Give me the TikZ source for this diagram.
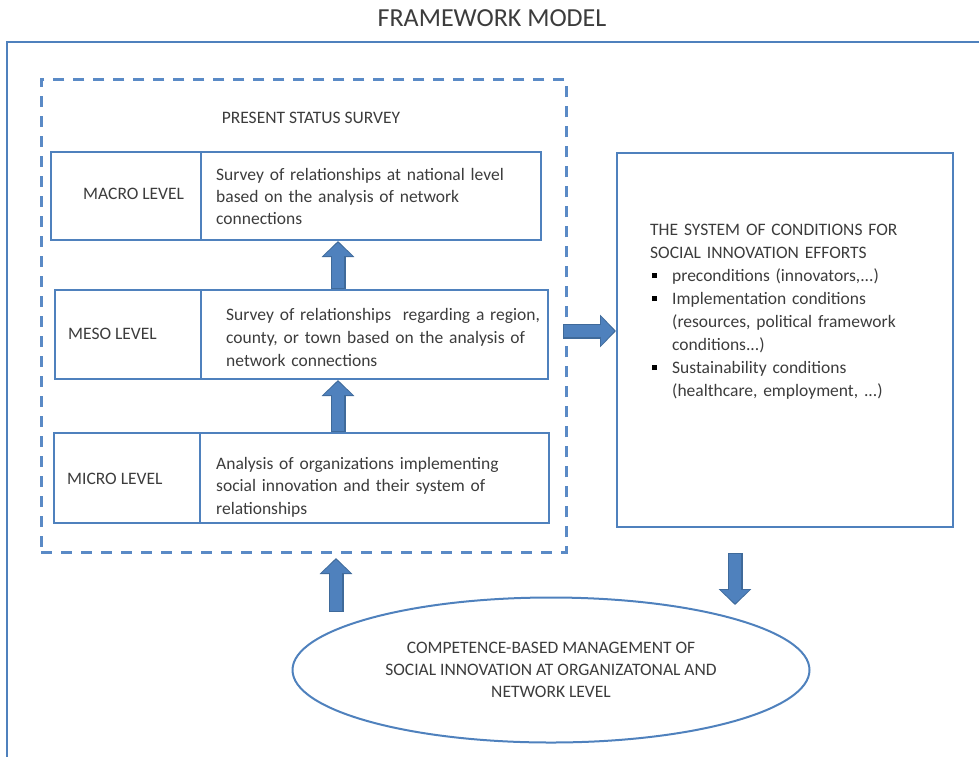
\documentclass[tikz,border=0pt]{standalone}
\usepackage{fontspec}
\setmainfont{Carlito}
\usetikzlibrary{arrows.meta,shapes.geometric,calc}
\definecolor{ln}{HTML}{4F81BD}
\definecolor{dl}{HTML}{5A8AC6}
\definecolor{af}{HTML}{4F81BD}
\definecolor{ad}{HTML}{3F6A9A}
\definecolor{tx}{HTML}{3C3C3C}
\newcommand\sqb{\textcolor{black}{\rule[3pt]{5pt}{5pt}}}
\newcommand\blockarrow[2]{%
  \draw[blkout] (#1) -- (#2);
  \draw[blkin] (#1) -- (#2);}
\begin{document}
\begin{tikzpicture}[x=1pt,y=-1pt,
 box/.style={draw=ln, line width=2pt, anchor=north west, inner sep=0pt},
 divider/.style={draw=ln, line width=1.3pt},
 txt/.style={text=tx, font=\fontsize{17.5}{22}\selectfont, inner sep=0pt, anchor=base west, align=left},
 blkout/.style={draw=ad, line width=15pt, -{Triangle[width=32pt,length=16pt]}},
 blkin/.style={draw=af, line width=12.5pt, -{Triangle[width=28pt,length=13.5pt]}, shorten >=1.6pt, shorten <=1pt},
]
\useasboundingbox (0,0) rectangle (979,756);
\draw[ln, line width=2pt] (7,770) -- (7,42) -- (990,42);
\node[txt, anchor=base, font=\fontsize{26}{30}\selectfont] (title) at (492,26) {FRAMEWORK MODEL};

\node[draw=dl, line width=2.6pt, dash pattern=on 11pt off 9pt, minimum width=525pt, minimum height=473pt, inner sep=0pt, anchor=north west] (survey) at (40,78) {};
\node[txt, anchor=base] (surveylbl) at (311,123) {PRESENT STATUS SURVEY};

% macro
\node[box, minimum width=490pt, minimum height=88pt] (macro) at (50,151) {};
\draw[divider] ([xshift=151pt]macro.north west) -- ([xshift=151pt]macro.south west);
\node[txt] (macrolbl) at (83,199) {MACRO LEVEL};
\node[txt, text width=320pt] (macrotxt) at (216,180) {Survey of relationships at national level\\based on the analysis of network\\connections};

% meso
\node[box, minimum width=493pt, minimum height=89pt] (meso) at (54,289) {};
\draw[divider] ([xshift=147pt]meso.north west) -- ([xshift=147pt]meso.south west);
\node[txt] (mesolbl) at (68,339) {MESO LEVEL};
\node[txt, text width=320pt, font=\fontsize{17.5}{23}\selectfont] (mesotxt) at (226,320) {Survey of relationships\ \ regarding a region,\\county, or town based on the analysis of\\network connections};

% micro
\node[box, minimum width=495pt, minimum height=90pt] (micro) at (53,432) {};
\draw[divider] ([xshift=147pt]micro.north west) -- ([xshift=147pt]micro.south west);
\node[txt] (microlbl) at (67,484) {MICRO LEVEL};
\node[txt, text width=320pt, font=\fontsize{17.5}{22.5}\selectfont] (microtxt) at (216,469) {Analysis of organizations implementing\\social innovation and their system of\\relationships};

% conditions
\node[box, minimum width=336pt, minimum height=374pt] (cond) at (616,152) {};
\node[txt, text width=300pt, font=\fontsize{17.5}{23}\selectfont] (condtxt) at (650,235) {THE SYSTEM OF CONDITIONS FOR\\SOCIAL INNOVATION EFFORTS\\\makebox[22pt][l]{\hspace{2pt}\sqb}preconditions (innovators,...)\\\makebox[22pt][l]{\hspace{2pt}\sqb}Implementation conditions\\\hspace*{22pt}(resources, political framework\\\hspace*{22pt}conditions...)\\\makebox[22pt][l]{\hspace{2pt}\sqb}Sustainability conditions\\\hspace*{22pt}(healthcare, employment, ...)};

% management ellipse
\node[draw=ln, line width=2pt, ellipse, minimum width=517pt, minimum height=145pt, text=tx, font=\fontsize{17.5}{22}\selectfont, align=center, inner sep=0pt] (mgmt) at (551,670) {COMPETENCE-BASED MANAGEMENT OF\\SOCIAL INNOVATION AT ORGANIZATONAL AND\\NETWORK LEVEL};

% arrows
\coordinate (ax) at (338,0);
\blockarrow{ax |- meso.north}{ax |- macro.south}
\blockarrow{ax |- micro.north}{ax |- meso.south}
\coordinate (ra) at (563,331);
\blockarrow{ra}{ra -| cond.west}
\coordinate (ua) at (336,612);
\coordinate (ut) at (336,558);
\blockarrow{ua}{ut}
\coordinate (da) at (735,553);
\coordinate (dt) at (735,605);
\blockarrow{da}{dt}
\end{tikzpicture}
\end{document}
